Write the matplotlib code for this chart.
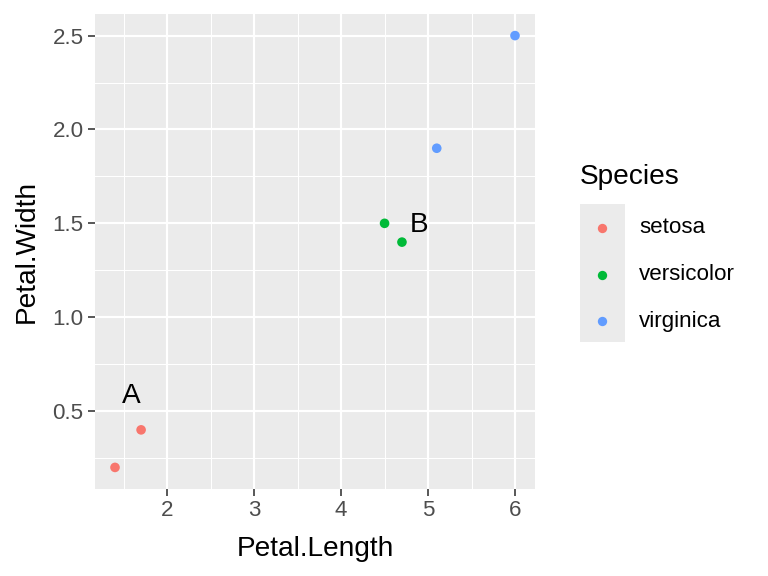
import numpy as np
import matplotlib.pyplot as plt
from matplotlib.patches import Rectangle

# data
species = ['setosa', 'versicolor', 'virginica']
colors = ['#F8766D', '#00BA38', '#619CFF']
petal_length = [1.4, 1.7, 4.5, 4.7, 5.1, 6.0]
petal_width = [0.2, 0.4, 1.5, 1.4, 1.9, 2.5]
point_species = ['setosa', 'setosa', 'versicolor', 'versicolor', 'virginica', 'virginica']
label_text = ['A', 'B']
label_x = [1.59, 4.9]
label_y = [0.58, 1.49]

x_ticks = [2, 3, 4, 5, 6]
y_ticks = [0.5, 1.0, 1.5, 2.0, 2.5]

plt.rcParams['font.family'] = ['Liberation Sans', 'DejaVu Sans']

fig = plt.figure(figsize=(8, 6), dpi=96)
ax = fig.add_axes([95 / 768, 1 - 489 / 576, 440 / 768, 475 / 576])
ax.set_facecolor('#EBEBEB')
for s in ax.spines.values():
    s.set_visible(False)

xmin, xmax = min(petal_length), max(petal_length)
ymin, ymax = min(petal_width), max(petal_width)
dx = (xmax - xmin) * 0.05
dy = (ymax - ymin) * 0.05
ax.set_xlim(xmin - dx, xmax + dx)
ax.set_ylim(ymin - dy, ymax + dy)

# grid lines
for v in np.arange(1.5, 6.6, 1.0):
    ax.axvline(v, color='white', lw=0.8, zorder=0)
for v in np.arange(0.25, 2.6, 0.5):
    ax.axhline(v, color='white', lw=0.8, zorder=0)
for v in x_ticks:
    ax.axvline(v, color='white', lw=1.6, zorder=0)
for v in y_ticks:
    ax.axhline(v, color='white', lw=1.6, zorder=0)

cmap = dict(zip(species, colors))
ax.scatter(petal_length, petal_width, c=[cmap[s] for s in point_species],
           s=52, linewidths=0, zorder=3)

for t, x, y in zip(label_text, label_x, label_y):
    ax.text(x, y, t, fontsize=21, ha='center', va='center', color='black')

ax.set_xticks(x_ticks)
ax.set_xticklabels([str(v) for v in x_ticks])
ax.set_yticks(y_ticks)
ax.set_yticklabels(['%.1f' % v for v in y_ticks])
ax.tick_params(colors='#333333', labelcolor='#4D4D4D', labelsize=16.8,
               length=5.5, width=1.2, pad=3)
ax.set_xlabel('Petal.Length', fontsize=21)
ax.set_ylabel('Petal.Width', fontsize=21)
ax.xaxis.set_label_coords(0.5, -0.098)
ax.yaxis.set_label_coords(-0.126, 0.5)

# legend
fig.text(580 / 768, 1 - 177 / 576, 'Species', fontsize=21, va='center', ha='left')
fig.patches.append(Rectangle((580 / 768, 1 - 342 / 576), 45 / 768, 138 / 576,
                             transform=fig.transFigure, facecolor='#EBEBEB',
                             edgecolor='none'))
for i, (sp, c) in enumerate(zip(species, colors)):
    yc = 1 - (228 + i * 46.5) / 576
    fig.add_artist(plt.Line2D([602 / 768], [yc], marker='o', markersize=7,
                              color=c, markeredgewidth=0, transform=fig.transFigure))
    fig.text(639 / 768, yc, sp, fontsize=16.8, va='center', ha='left')

fig.savefig('out.png', dpi=96)
